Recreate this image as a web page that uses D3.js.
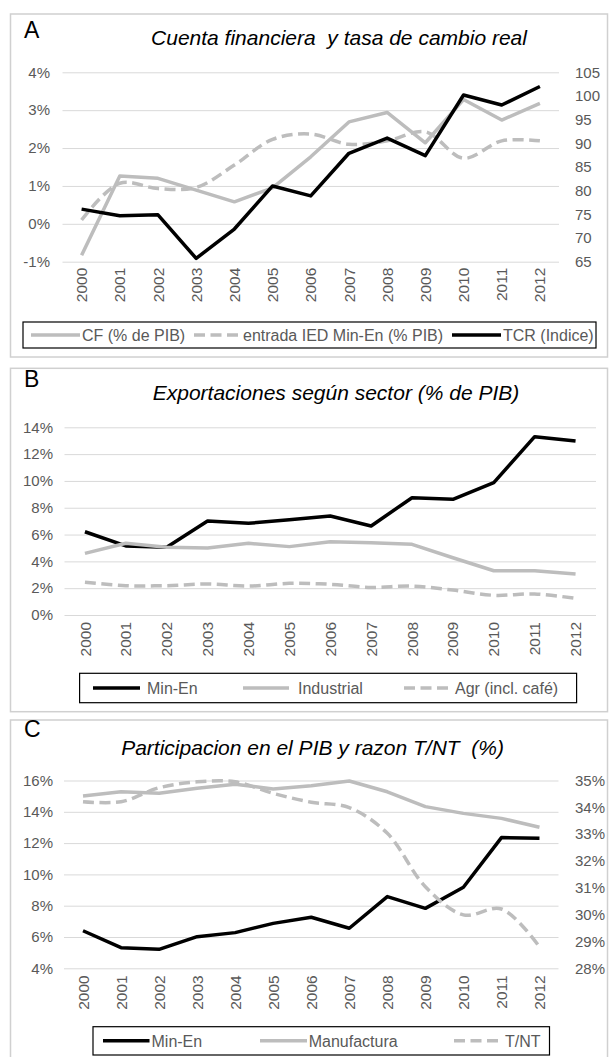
<!DOCTYPE html>
<html><head><meta charset="utf-8">
<script src="https://cdn.jsdelivr.net/npm/d3@7"></script>
<style>
html,body{margin:0;padding:0;background:#fff;}
svg text{font-family:"Liberation Sans",Arial,sans-serif;white-space:pre;}
</style></head><body>
<svg id="chart" width="609" height="1057"></svg>
<script>
// ---------- DATA ----------
const years = ["2000","2001","2002","2003","2004","2005","2006","2007","2008","2009","2010","2011","2012"];

// Panel A
const cfPIB     = [-0.83, 1.26, 1.20, 0.89, 0.58, 0.95, 1.77, 2.69, 2.94, 2.14, 3.28, 2.74, 3.18];
const iedMinEn  = [0.10, 1.07, 0.93, 0.96, 1.55, 2.23, 2.37, 2.10, 2.19, 2.43, 1.73, 2.19, 2.19];
const tcrIndice = [76.1, 74.7, 74.9, 65.7, 71.9, 81.0, 78.9, 87.9, 91.1, 87.4, 100.2, 98.1, 102.0];
const aLeftTicks  = [-1, 0, 1, 2, 3, 4];
const aRightTicks = [65, 70, 75, 80, 85, 90, 95, 100, 105];

// Panel B
const expMinEn      = [6.21, 5.15, 5.05, 7.01, 6.84, 7.10, 7.38, 6.64, 8.75, 8.63, 9.87, 13.30, 12.98];
const expIndustrial = [4.60, 5.35, 5.05, 5.00, 5.35, 5.10, 5.47, 5.39, 5.27, 4.27, 3.30, 3.30, 3.06];
const expAgr        = [2.44, 2.19, 2.19, 2.31, 2.16, 2.36, 2.29, 2.06, 2.16, 1.86, 1.47, 1.57, 1.24];
const bTicks = [0, 2, 4, 6, 8, 10, 12, 14];

// Panel C
const pibMinEn       = [6.40, 5.32, 5.21, 6.02, 6.28, 6.87, 7.26, 6.56, 8.58, 7.83, 9.18, 12.35, 12.31];
const pibManufactura = [15.01, 15.28, 15.18, 15.50, 15.76, 15.46, 15.67, 15.97, 15.28, 14.33, 13.90, 13.58, 13.01];
const razonTNT       = [34.21, 34.21, 34.73, 34.95, 34.95, 34.52, 34.19, 33.99, 33.03, 31.04, 29.99, 30.21, 28.80];
const cLeftTicks  = [4, 6, 8, 10, 12, 14, 16];
const cRightTicks = [28, 29, 30, 31, 32, 33, 34, 35];

// ---------- STYLE ----------
const GRAY = "#bdbdbd", BLACK = "#000", GRID = "#d9d9d9", TXT = "#595959";
const LW = 3.5, DASH = "11,5.5";
const FS_TICK = 15, FS_YEAR = 15.5, FS_LEG = 16, FS_TITLE = 21, FS_LETTER = 23;
const svg = d3.select("#chart");

function panel(p) {
  const g = svg.append("g");
  g.append("rect").attr("x", p.box[0]).attr("y", p.box[1]).attr("width", p.box[2]).attr("height", p.box[3])
    .attr("fill", "none").attr("stroke", "#d0d0d0").attr("stroke-width", 1.5);
  g.append("text").attr("x", p.letter[0]).attr("y", p.letter[1]).attr("font-size", FS_LETTER).attr("fill", "#000").text(p.letterText);
  g.append("text").attr("x", p.title[0]).attr("y", p.title[1]).attr("font-size", FS_TITLE).attr("font-style", "italic")
    .attr("text-anchor", "middle").attr("fill", "#000").text(p.titleText);

  const x = d3.scaleBand().domain(years).range(p.xr).padding(0);
  const cx = d => x(d) + x.bandwidth() / 2;
  const yL = d3.scaleLinear().domain(p.yLdom).range(p.yr);

  const ax = g.append("g").attr("transform", `translate(${p.xr[0]},0)`)
    .call(d3.axisLeft(yL).tickValues(p.lTicks).tickSize(-(p.xr[1] - p.xr[0])).tickPadding(p.lPad).tickFormat(d => d + "%"));
  ax.select(".domain").remove();
  ax.selectAll("line").attr("stroke", GRID).attr("stroke-width", 1);
  ax.selectAll("text").attr("fill", TXT).attr("font-size", FS_TICK).attr("font-family", "Liberation Sans");

  let yR = null;
  if (p.yRdom) {
    yR = d3.scaleLinear().domain(p.yRdom).range(p.yr);
    const ar = g.append("g").attr("transform", `translate(${p.xr[1]},0)`)
      .call(d3.axisRight(yR).tickValues(p.rTicks).tickSize(0).tickPadding(p.rPad).tickFormat(p.rFmt));
    ar.select(".domain").remove();
    ar.selectAll("text").attr("fill", TXT).attr("font-size", FS_TICK).attr("font-family", "Liberation Sans");
  }

  const axb = g.append("g").attr("transform", `translate(0,${p.yr[0]})`)
    .call(d3.axisBottom(x).tickSize(0));
  axb.select(".domain").remove();
  axb.selectAll("text").attr("fill", TXT).attr("font-size", FS_YEAR).attr("font-family", "Liberation Sans")
    .attr("transform", "rotate(-90)").attr("text-anchor", "end").attr("x", -p.yearGap).attr("y", 0).attr("dy", "0.36em");

  p.series.forEach(s => {
    const sc = s.axis === "R" ? yR : yL;
    const line = d3.line().x((d, i) => cx(years[i])).y(d => sc(d));
    if (s.smooth) line.curve(d3.curveCatmullRom.alpha(0.5));
    g.append("path").datum(s.values).attr("d", line).attr("fill", "none")
      .attr("stroke", s.color).attr("stroke-width", LW).attr("stroke-dasharray", s.dash ? DASH : null)
      .attr("stroke-linejoin", "round");
  });

  // legend
  const L = p.legend;
  g.append("rect").attr("x", L.box[0]).attr("y", L.box[1]).attr("width", L.box[2]).attr("height", L.box[3])
    .attr("fill", "#fff").attr("stroke", "#000").attr("stroke-width", 1.2);
  const my = L.box[1] + L.box[3] / 2;
  L.items.forEach(it => {
    const s = p.series[it.s];
    g.append("line").attr("x1", it.x1).attr("x2", it.x2).attr("y1", my).attr("y2", my)
      .attr("stroke", s.color).attr("stroke-width", LW).attr("stroke-dasharray", s.dash ? DASH : null);
    g.append("text").attr("x", it.tx).attr("y", my).attr("dy", "0.36em").attr("font-size", FS_LEG)
      .attr("fill", TXT).text(s.name);
  });
}

panel({
  box: [10.5, 14, 597, 343], letter: [24, 38], letterText: "A",
  title: [339, 45], titleText: "Cuenta financiera  y tasa de cambio real",
  xr: [62.5, 559], yr: [261.7, 72.3], yLdom: [-1, 4], lTicks: aLeftTicks, lPad: 12.5,
  yRdom: [65, 105], rTicks: aRightTicks, rPad: 16, rFmt: d => d,
  yearGap: 6,
  series: [
    { name: "CF (% de PIB)", values: cfPIB, color: GRAY, axis: "L" },
    { name: "entrada IED Min-En (% PIB)", values: iedMinEn, color: GRAY, dash: true, smooth: true, axis: "L" },
    { name: "TCR (Indice)", values: tcrIndice, color: BLACK, axis: "R" }
  ],
  legend: { box: [23, 322, 573, 26], items: [
    { s: 0, x1: 31, x2: 80, tx: 82 }, { s: 1, x1: 194, x2: 238, tx: 243 }, { s: 2, x1: 452, x2: 501, tx: 503 }] }
});

panel({
  box: [10.5, 368.3, 597, 343.4], letter: [24, 387], letterText: "B",
  title: [336, 400], titleText: "Exportaciones según sector (% de PIB)",
  xr: [64.5, 596], yr: [615, 427.3], yLdom: [0, 14], lTicks: bTicks, lPad: 11.5,
  yearGap: 7,
  series: [
    { name: "Min-En", values: expMinEn, color: BLACK, axis: "L" },
    { name: "Industrial", values: expIndustrial, color: GRAY, axis: "L" },
    { name: "Agr (incl. café)", values: expAgr, color: GRAY, dash: true, smooth: true, axis: "L" }
  ],
  legend: { box: [79.6, 673.3, 497, 29.4], items: [
    { s: 0, x1: 93, x2: 140, tx: 147 }, { s: 1, x1: 243, x2: 289, tx: 298 }, { s: 2, x1: 404, x2: 448, tx: 455 }] }
});

panel({
  box: [10.5, 720, 597, 345], letter: [24, 737], letterText: "C",
  title: [312.6, 755], titleText: "Participacion en el PIB y razon T/NT  (%)",
  xr: [64, 558.5], yr: [968.3, 780.5], yLdom: [4, 16], lTicks: cLeftTicks, lPad: 11,
  yRdom: [28, 35], rTicks: cRightTicks, rPad: 16.5, rFmt: d => d + "%",
  yearGap: 7,
  series: [
    { name: "Min-En", values: pibMinEn, color: BLACK, axis: "L" },
    { name: "Manufactura", values: pibManufactura, color: GRAY, axis: "L" },
    { name: "T/NT", values: razonTNT, color: GRAY, dash: true, smooth: true, axis: "R" }
  ],
  legend: { box: [93, 1026.7, 456.5, 28.3], items: [
    { s: 0, x1: 103, x2: 149.5, tx: 151.5 }, { s: 1, x1: 260, x2: 307, tx: 308.7 }, { s: 2, x1: 454, x2: 499, tx: 505 }] }
});
</script>
</body></html>
